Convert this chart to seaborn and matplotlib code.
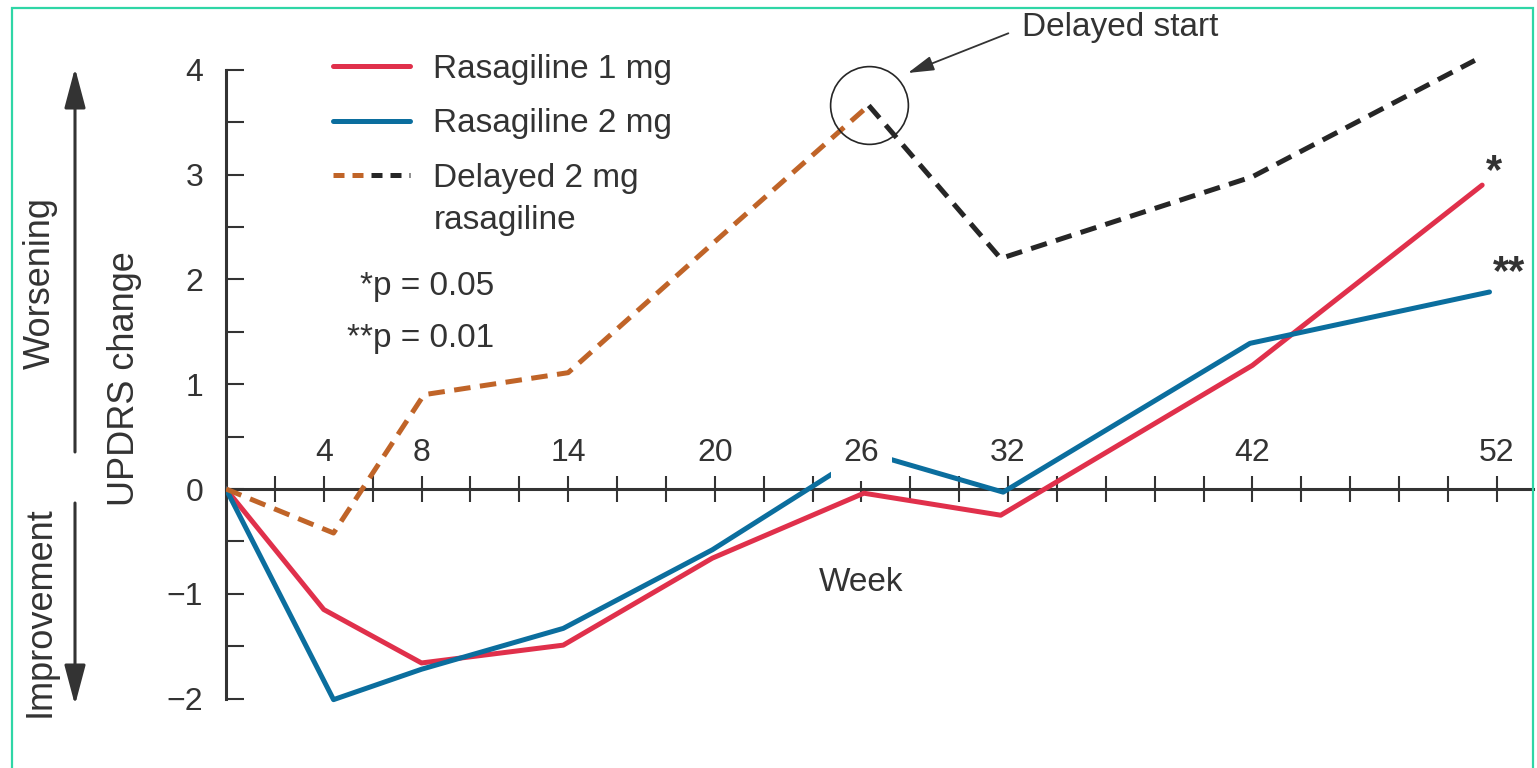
import numpy as np
import matplotlib
matplotlib.use("Agg")
import matplotlib.pyplot as plt
from matplotlib.lines import Line2D
from matplotlib.legend_handler import HandlerTuple
from matplotlib.patches import Rectangle, FancyArrowPatch
import seaborn as sns

###############################################################################
# Data
###############################################################################
weeks_1mg = [0, 4.0, 8.0, 13.8, 19.9, 26.1, 31.7, 42.0, 51.4]
rasa_1mg = [0, -1.15, -1.66, -1.49, -0.66, -0.04, -0.25, 1.18, 2.90]

weeks_2mg = [0, 4.4, 8.0, 13.8, 19.9, 26.2, 31.8, 41.9, 51.7]
rasa_2mg = [0, -2.01, -1.72, -1.33, -0.58, 0.35, -0.03, 1.39, 1.88]

# delayed group: placebo phase (orange) then 2 mg phase (black)
weeks_placebo = [0, 4.4, 8.1, 14.0, 20.0, 26.3]
placebo_vals = [0, -0.42, 0.90, 1.11, 2.36, 3.66]
weeks_delayed = [26.3, 31.7, 42.0, 51.1]
delayed_vals = [3.66, 2.20, 2.98, 4.09]

week_labels = [4, 8, 14, 20, 26, 32, 42, 52]
y_ticks = [-2, -1, 0, 1, 2, 3, 4]
legend_labels = ["Rasagiline 1 mg", "Rasagiline 2 mg", "Delayed 2 mg"]
legend_extra = "rasagiline"
p_notes = ["*p = 0.05", "**p = 0.01"]

RED = "#e0304b"
BLUE = "#0b6e9e"
ORANGE = "#c06428"
BLACK = "#262626"
GREY = "#333333"

###############################################################################
# Figure
###############################################################################
sns.set_theme(style="white")
plt.rcParams["font.family"] = ["Liberation Sans", "DejaVu Sans"]
plt.rcParams["text.color"] = GREY

W, H = 1537, 768
fig = plt.figure(figsize=(W / 100, H / 100), dpi=100)
fig.patch.set_facecolor("white")
ax = fig.add_axes([226 / W, 0.0358, (1533 - 226) / W, 0.9415])
ax.set_xlim(0, 53.48)
ax.set_ylim(-2.4, 4.5)

lw = 3.6
sns.lineplot(x=weeks_1mg, y=rasa_1mg, color=RED, lw=lw, ax=ax, zorder=2)
sns.lineplot(x=weeks_2mg, y=rasa_2mg, color=BLUE, lw=lw, ax=ax, zorder=2)
dash = (0, (3.3, 1.9))
sns.lineplot(x=weeks_placebo, y=placebo_vals, color=ORANGE, lw=lw,
             linestyle=dash, ax=ax, zorder=2)
sns.lineplot(x=weeks_delayed, y=delayed_vals, color=BLACK, lw=lw,
             linestyle=dash, ax=ax, zorder=2)

# circle around the switch point
ax.plot(weeks_delayed[0], delayed_vals[0], marker="o", ms=56, mfc="none",
        mec=BLACK, mew=1.2, zorder=3)

# axes styling
for s in ["top", "right"]:
    ax.spines[s].set_visible(False)
ax.spines["bottom"].set_position(("data", 0))
ax.spines["left"].set_bounds(-2, 4)
for s in ["bottom", "left"]:
    ax.spines[s].set_color(GREY)
    ax.spines[s].set_linewidth(2.2)
    ax.spines[s].set_zorder(1)

ax.set_xticks(np.arange(2, 53, 2))
ax.set_xticklabels([])
ax.tick_params(axis="x", which="both", bottom=True, direction="inout",
               length=19, width=1.5, color=GREY)

ax.set_yticks(y_ticks)
ax.set_yticklabels([str(v).replace("-", "\u2212") for v in y_ticks])
ax.set_yticks(np.arange(-1.5, 4, 1), minor=True)
ax.tick_params(axis="y", which="both", left=True, direction="in", length=13,
               width=1.5, color=GREY, pad=16.5, labelsize=23,
               labelcolor=GREY)

# week labels above the axis
for w in week_labels:
    kw = {}
    if w == 26:
        kw["bbox"] = dict(boxstyle="square,pad=0.4", fc="white", ec="none")
    ax.text(w, 0.34, str(w), ha="center", va="center", fontsize=23,
            color=GREY, zorder=4, **kw)

ax.text(26, -0.89, "Week", ha="center", va="center", fontsize=24, color=GREY)

# significance notes
ax.text(10.97, 1.93, p_notes[0], ha="right", va="center", fontsize=24)
ax.text(10.97, 1.44, p_notes[1], ha="right", va="center", fontsize=24)
ax.text(weeks_1mg[-1] + 0.5, rasa_1mg[-1] + 0.12, "*", ha="center",
        va="center", fontsize=30, fontweight="bold", color=GREY)
ax.text(weeks_2mg[-1] + 0.8, rasa_2mg[-1] + 0.18, "**", ha="center",
        va="center", fontsize=30, fontweight="bold", color=GREY)

# delayed start annotation
ax.annotate("Delayed start", xy=(27.9, 3.97), xytext=(32.57, 4.40),
            ha="left", va="center", fontsize=24, color=GREY,
            arrowprops=dict(arrowstyle="-|>,head_length=1.6,head_width=0.45",
                            color=GREY, lw=1.3, shrinkA=8, shrinkB=0,
                            relpos=(0, 0.5), mutation_scale=10))

# legend
h_red = Line2D([], [], color=RED, lw=lw)
h_blue = Line2D([], [], color=BLUE, lw=lw)
h_or = Line2D([], [], color=ORANGE, lw=lw, linestyle=(0, (2.2, 1.6)))
h_bk = Line2D([], [], color=BLACK, lw=lw, linestyle=(0, (2.2, 1.6)))
fig.legend([h_red, h_blue, (h_or, h_bk)], legend_labels,
           handler_map={tuple: HandlerTuple(ndivide=2, pad=0)},
           loc="upper left", bbox_to_anchor=(333 / W, 1 - 54 / H),
           frameon=False, fontsize=24, borderpad=0, borderaxespad=0,
           handlelength=2.3, handletextpad=0.7, labelspacing=0.7,
           labelcolor=GREY)
fig.text(434 / W, 1 - 220 / H, legend_extra, ha="left", va="center",
         fontsize=24, color=GREY)

# left side labels and arrows
fig.text(125 / W, 1 - 379 / H, "UPDRS change", rotation=90, ha="center",
         va="center", fontsize=26, color=GREY)
fig.text(40 / W, 1 - 283 / H, "Worsening", rotation=90, ha="center",
         va="center", fontsize=26, color=GREY)
fig.text(40 / W, 1 - 612 / H, "Improvement", rotation=90, ha="center",
         va="center", fontsize=26, color=GREY)
arrow_kw = dict(arrowstyle="-|>,head_length=2.45,head_width=0.65",
                color=GREY, lw=2.2, shrinkA=0, shrinkB=0, mutation_scale=10)
fig.add_artist(FancyArrowPatch((75 / W, 1 - 452 / H), (75 / W, 1 - 68 / H),
                               transform=fig.transFigure, **arrow_kw))
fig.add_artist(FancyArrowPatch((75 / W, 1 - 503 / H), (75 / W, 1 - 705 / H),
                               transform=fig.transFigure, **arrow_kw))

# green frame
fig.add_artist(Rectangle((12 / W, -0.01), (1533 - 12) / W, 0.01 + 1 - 8 / H,
                         transform=fig.transFigure, fill=False,
                         ec="#2fd6a6", lw=1.6))

fig.savefig("out.png", dpi=100)
